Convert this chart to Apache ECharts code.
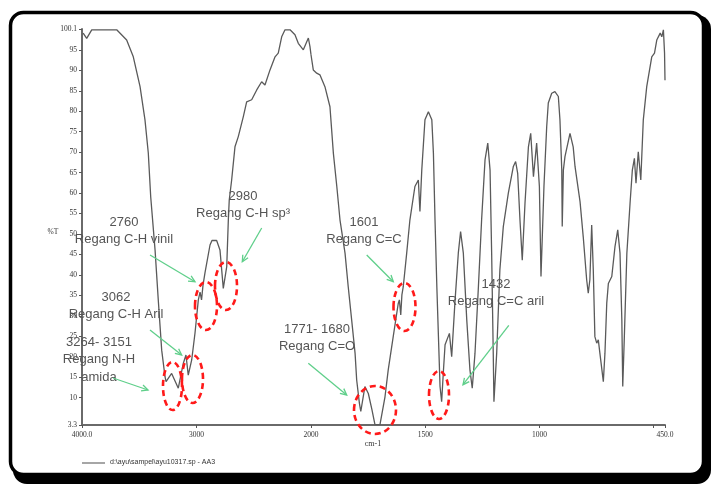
<!DOCTYPE html>
<html><head><meta charset="utf-8">
<script src="https://cdn.jsdelivr.net/npm/echarts@6/dist/echarts.min.js"></script>
<style>html,body{margin:0;padding:0;background:#fff}#c{width:711px;height:484px}</style>
</head><body><div id="c"></div>
<script>
// Spectrum, 4000–2000 cm-1 region: [wavenumber, %T]
const highRegion = [
[3990,99.1],[3959,97.8],[3915,99.9],[3697,99.9],[3610,97.4],[3552,93.3],[3493,86.0],[3450,77.9],
[3421,69.8],[3400,59.1],[3362,46.1],[3334,33.9],[3304,21.6],[3275,15.1],[3266,13.9],[3217,15.9],
[3159,12.3],[3115,18.4],[3092,20.4],[3072,15.5],[3042,19.2],[3013,25.8],[2984,33.9],[2969,35.8],
[2956,33.9],[2943,37.5],[2926,40.5],[2882,47.3],[2865,48.4],[2824,48.4],[2795,46.1],[2766,36.7],
[2736,42.0],[2722,53.4],[2714,58.3],[2693,63.2],[2664,71.3],[2635,73.8],[2620,73.5],[2591,78.7],
[2562,82.3],[2518,82.8],[2474,85.2],[2431,87.2],[2402,86.4],[2358,90.1],[2314,93.3],[2286,94.2],
[2256,98.2],[2227,99.9],[2183,99.9],[2140,98.7],[2111,96.6],[2067,95.0],[2023,97.9],[2009,95.8],
[2000,93.8]
];
// Spectrum, 2000–450 cm-1 region: [wavenumber, %T]
const lowRegion = [
[2000,93.8],[1990,90.1],[1975,89.3],[1961,88.9],[1939,86.0],[1917,81.1],[1902,69.7],[1887,61.6],
[1873,53.4],[1851,45.3],[1837,37.1],[1822,29.0],[1807,20.8],[1800,14.3],[1788,8.6],[1782,6.6],
[1764,12.7],[1749,11.0],[1733,7.0],[1720,3.4],[1698,3.4],[1676,10.2],[1662,16.7],[1640,24.9],
[1618,33.0],[1613,33.9],[1607,30.2],[1602,35.1],[1596,37.1],[1581,45.3],[1567,53.4],[1545,61.6],
[1530,63.2],[1523,55.5],[1515,65.6],[1501,77.9],[1486,79.9],[1471,77.9],[1464,69.7],[1457,53.4],
[1449,37.1],[1442,24.9],[1435,12.7],[1428,9.0],[1420,16.7],[1413,22.9],[1406,23.3],[1394,25.7],
[1384,20.0],[1370,33.1],[1355,45.3],[1345,50.6],[1333,45.3],[1318,29.0],[1304,16.7],[1294,12.3],
[1282,20.8],[1267,37.1],[1253,53.4],[1238,68.1],[1226,72.2],[1216,65.6],[1209,45.3],[1202,20.8],
[1199,9.0],[1187,20.8],[1173,41.2],[1158,51.8],[1136,60.0],[1114,66.5],[1104,67.7],[1095,64.8],
[1085,53.4],[1075,43.6],[1063,57.5],[1048,71.3],[1038,74.6],[1026,64.0],[1012,72.2],[1000,61.6],
[993,39.6],[980,61.6],[968,76.2],[961,82.0],[946,84.4],[932,84.8],[917,83.6],[910,77.9],
[902,65.6],[900,51.8],[895,65.6],[888,68.9],[866,74.6],[852,71.3],[844,66.5],[822,57.9],
[808,49.3],[793,38.8],[786,35.5],[779,38.8],[771,52.2],[764,41.2],[757,24.9],[749,23.3],
[742,24.1],[735,20.8],[720,13.9],[713,20.8],[705,33.1],[698,37.9],[683,39.6],[669,46.9],
[657,51.0],[647,45.3],[639,29.0],[635,12.7],[628,24.9],[617,45.3],[603,57.5],[593,65.6],
[584,68.5],[577,62.4],[567,70.1],[556,63.2],[545,77.9],[530,86.0],[508,93.3],[496,94.2],
[486,97.4],[471,99.1],[464,98.2],[457,99.9],[452,94.2],[450,87.6]
];
const yTicks = [3.3,10,15,20,25,30,35,40,45,50,55,60,65,70,75,80,85,90,95,100.1];
const xTicksHigh = [4000,3000,2000];
const xTicksLow = [2000,1500,1000,500,450];
const xLabelsHigh = [4000,3000,2000];
const xLabelsLow = [1500,1000,450];
const yName = '%T';
const xName = 'cm-1';
const legendText = 'd:\\ayu\\sampel\\ayu10317.sp - AA3';
const annotationTexts = [
  ['2980','Regang C-H sp\u00B3'],
  ['2760','Regang C-H vinil'],
  ['3062','Regang C-H Aril'],
  ['3264- 3151','Regang N-H','amida'],
  ['1771- 1680','Regang C=O'],
  ['1601','Regang C=C'],
  ['1432','Regang C=C aril']
];

// ---- layout (pixels) ----
const textPos = [[243,196],[124,222],[116,297],[99,342],[317,329],[364,222],[496,284]];
const ellipses = [[172.5,386,9.5,24],[192.5,379,10.5,24],[206,306,11,24],[226,286,11,24],[375,410,21,24],[404.5,307,11,24],[439,395,10,24]];
const arrows = [[261.7,228,242.3,261.7],[150,255,195,281.7],[150,330,181.7,355],[113,378,148,390],[308.3,363.3,346.7,395],[366.7,255,393.3,281.7],[508.8,325.4,463,384.7]];

const chart = echarts.init(document.getElementById('c'), null, {renderer:'canvas'});
const fmtX = v => (v === 4000 || v === 450) ? v.toFixed(1) : String(v);
const axisFont = {fontSize:7.5, fontFamily:'"Liberation Serif", serif', color:'#333'};
const axisLineStyle = {color:'#6a6a6a', width:2};

const graphics = [];
// frame
graphics.push({type:'rect', z:-20, shape:{x:13,y:15,width:698,height:469,r:14}, style:{fill:'#000'}});
graphics.push({type:'rect', z:-19, shape:{x:10.5,y:12.5,width:693,height:462,r:13}, style:{fill:'#fff', stroke:'#000', lineWidth:3.5}});
// texts
annotationTexts.forEach((lines, i) => {
  lines.forEach((t, j) => {
    graphics.push({type:'text', z:50, style:{text:t, x:textPos[i][0], y:textPos[i][1] + j*17.5, textAlign:'center', textVerticalAlign:'middle', fill:'#555', font:'13px "Liberation Sans", Arial, sans-serif'}});
  });
});
// ellipses
ellipses.forEach(e => {
  graphics.push({type:'ellipse', z:60, shape:{cx:e[0], cy:e[1], rx:e[2], ry:e[3]}, style:{fill:'none', stroke:'#ff1a1a', lineWidth:2.6, lineDash:[6,4]}});
});
// arrows
arrows.forEach(a => {
  const [x1,y1,x2,y2] = a;
  const ang = Math.atan2(y2-y1, x2-x1);
  const L = 7, da = 0.45;
  const p1 = [x2 - L*Math.cos(ang-da), y2 - L*Math.sin(ang-da)];
  const p2 = [x2 - L*Math.cos(ang+da), y2 - L*Math.sin(ang+da)];
  graphics.push({type:'line', z:55, shape:{x1,y1,x2,y2}, style:{stroke:'#5fcf8a', lineWidth:1.3}});
  graphics.push({type:'polyline', z:55, shape:{points:[p1,[x2,y2],p2]}, style:{stroke:'#5fcf8a', lineWidth:1.3, fill:'none'}});
});
// axis names and legend
graphics.push({type:'text', z:50, style:{text:yName, x:53, y:232, textAlign:'center', textVerticalAlign:'middle', fill:'#333', font:'7.5px "Liberation Serif", serif'}});
graphics.push({type:'text', z:50, style:{text:xName, x:373, y:444, textAlign:'center', textVerticalAlign:'middle', fill:'#333', font:'8px "Liberation Serif", serif'}});
graphics.push({type:'line', z:50, shape:{x1:82,y1:463,x2:105,y2:463}, style:{stroke:'#888', lineWidth:1.5}});
graphics.push({type:'text', z:50, style:{text:legendText, x:110, y:462, textAlign:'left', textVerticalAlign:'middle', fill:'#333', font:'7px "Liberation Sans", sans-serif'}});

const option = {
  animation:false,
  backgroundColor:'#fff',
  grid:[
    {left:82, top:29, width:229, height:396},
    {left:311, top:29, width:354, height:396}
  ],
  xAxis:[
    {type:'value', gridIndex:0, min:2000, max:4000, inverse:true,
     axisLine:{show:true, lineStyle:axisLineStyle},
     axisTick:{show:true, customValues:xTicksHigh, length:3, lineStyle:{color:'#555'}},
     axisLabel:Object.assign({customValues:xLabelsHigh, formatter:fmtX, margin:6}, axisFont),
     splitLine:{show:false}},
    {type:'value', gridIndex:1, min:450, max:2000, inverse:true,
     axisLine:{show:true, lineStyle:axisLineStyle},
     axisTick:{show:true, customValues:xTicksLow, length:3, lineStyle:{color:'#555'}},
     axisLabel:Object.assign({customValues:xLabelsLow, formatter:fmtX, margin:6}, axisFont),
     splitLine:{show:false}}
  ],
  yAxis:[
    {type:'value', gridIndex:0, min:3.3, max:100.1,
     axisLine:{show:true, lineStyle:axisLineStyle},
     axisTick:{show:true, customValues:yTicks, length:3, lineStyle:{color:'#555'}},
     axisLabel:Object.assign({customValues:yTicks, formatter:v => String(v), margin:5}, axisFont),
     splitLine:{show:false}},
    {type:'value', gridIndex:1, min:3.3, max:100.1, show:false, splitLine:{show:false}}
  ],
  series:[
    {type:'line', xAxisIndex:0, yAxisIndex:0, data:highRegion, showSymbol:false, symbol:'none',
     lineStyle:{color:'#5a5a5a', width:1.3}, z:10},
    {type:'line', xAxisIndex:1, yAxisIndex:1, data:lowRegion, showSymbol:false, symbol:'none',
     lineStyle:{color:'#5a5a5a', width:1.3}, z:10}
  ],
  graphic:{elements:graphics}
};
chart.setOption(option);
</script>
</body></html>
